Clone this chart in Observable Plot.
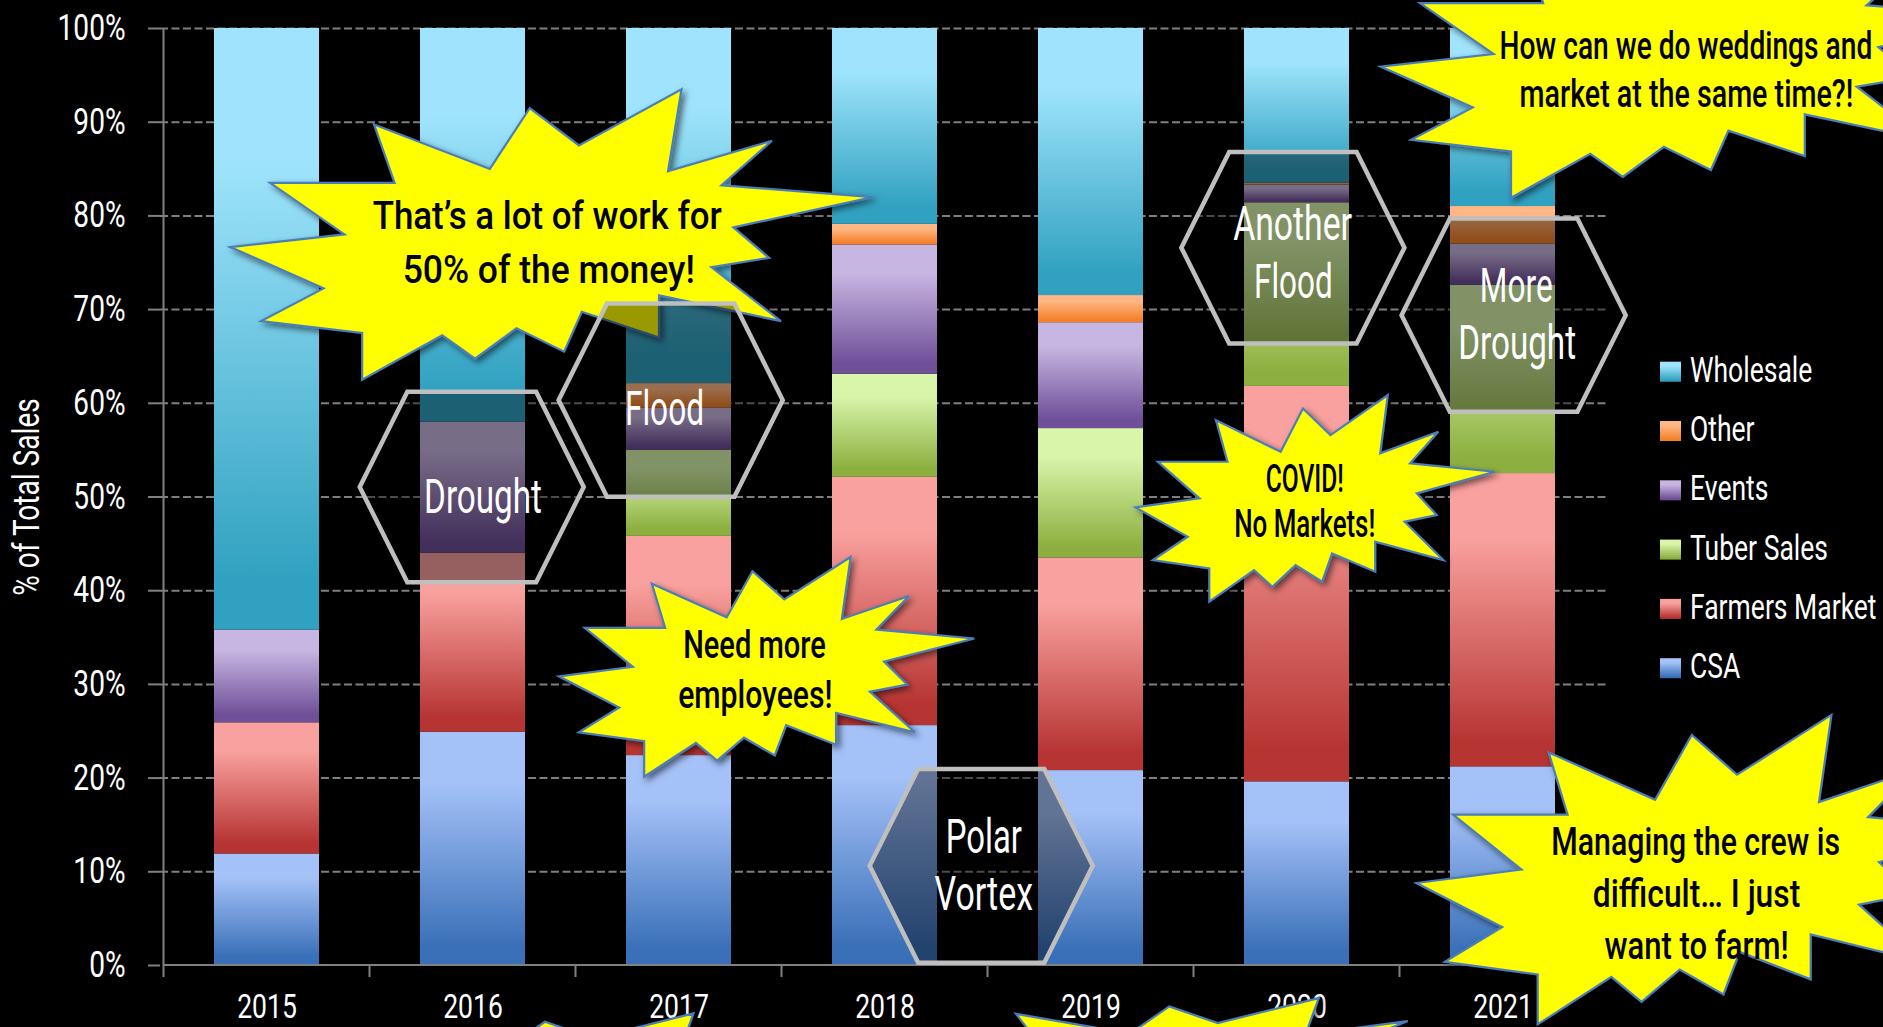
<!DOCTYPE html>
<html>
<head>
<meta charset="utf-8">
<script src="https://cdn.jsdelivr.net/npm/d3@7"></script>
<script src="https://cdn.jsdelivr.net/npm/@observablehq/plot@0.6"></script>
<style>
  html, body { margin: 0; padding: 0; background: #000; }
  #wrap { position: relative; width: 1883px; height: 1027px; overflow: hidden; background: #000; }
  #legend { position: absolute; left: 1650px; top: 340px; }
</style>
</head>
<body>
<div id="wrap"><div id="chart"></div><svg id="legend" width="233" height="360"></svg></div>
<script>
// ---------- data ----------
const years = ["2015", "2016", "2017", "2018", "2019", "2020", "2021"];
const seriesNames = ["CSA", "Farmers Market", "Tuber Sales", "Events", "Other", "Wholesale"];
const csa           = [11.9, 24.9, 22.4, 25.6, 20.8, 19.6, 21.2];
const farmersMarket = [14.0, 19.1, 23.4, 26.5, 22.7, 42.2, 31.3];
const tuberSales    = [ 0.0,  0.0,  9.2, 11.0, 13.8, 19.6, 20.1];
const events        = [ 9.9, 14.0,  4.5, 13.8, 11.3,  1.9,  4.4];
const other         = [ 0.0,  0.0,  2.6,  2.2,  2.9,  0.2,  4.0];
const wholesale     = [64.2, 42.0, 37.9, 20.9, 28.5, 16.5, 19.0];
const yTicks = [0, 10, 20, 30, 40, 50, 60, 70, 80, 90, 100];
const yTitle = "% of Total Sales";
const legendOrder = ["Wholesale", "Other", "Events", "Tuber Sales", "Farmers Market", "CSA"];

// ---------- styles ----------
const FONT = "Roboto, 'Liberation Sans', 'DejaVu Sans', sans-serif";
const gradientColors = {
  "CSA": ["#A4C1F8", "#3A70B8"],
  "Farmers Market": ["#F9A19E", "#B63432"],
  "Tuber Sales": ["#D8F5AA", "#8CAF40"],
  "Events": ["#C8B6E2", "#6F4F98"],
  "Other": ["#FFB885", "#F3802A"],
  "Wholesale": ["#9FE4FC", "#30A1C0"]
};
const gradId = s => "grad-" + seriesNames.indexOf(s);

// ---------- annotations (positions in data units: band index / percent) ----------
const STAR = [
  [-0.553,-0.758],[-0.193,-0.452],[-0.069,-0.871],[0.084,-0.614],
  [0.403,-1.0],[0.361,-0.437],[0.684,-0.646],[0.527,-0.340],
  [0.998,-0.259],[0.564,-0.050],[0.675,0.159],[0.496,0.224],
  [0.712,0.594],[0.333,0.417],[0.333,0.707],[0.093,0.530],
  [0.038,0.804],[-0.110,0.643],[-0.239,0.852],[-0.341,0.691],
  [-0.590,0.997],[-0.590,0.675],[-0.904,0.594],[-0.710,0.369],
  [-1.0,0.085],[-0.645,-0.002],[-0.876,-0.356],[-0.489,-0.356]
];
const annotations = [
  {kind: "star", x0: -0.176, x1: 2.947, yTop: 93.46, yBottom: 62.42, lines: [
    {text: "That’s a lot of work for", x: 1.363, y: 78.60, w: 1.695},
    {text: "50% of the money!", x: 1.370, y: 72.74, w: 1.418}]},
  {kind: "star", x0: 1.4195, x1: 3.438, yTop: 43.54, yBottom: 20.07, lines: [
    {text: "Need more", x: 2.369, y: 32.77, w: 0.693},
    {text: "employees!", x: 2.373, y: 27.39, w: 0.749}]},
  {kind: "star", x0: 4.219, x1: 5.964, yTop: 60.82, yBottom: 38.74, lines: [
    {text: "COVID!", x: 5.040, y: 50.51, w: 0.379},
    {text: "No Markets!", x: 5.040, y: 45.71, w: 0.685}]},
  {kind: "star", x0: 5.408, x1: 8.498, yTop: 112.55, yBottom: 81.83, lines: [
    {text: "How can we do weddings and", x: 6.890, y: 96.74, w: 1.810},
    {text: "market at the same time?!", x: 6.893, y: 91.57, w: 1.620}]},
  {kind: "star", x0: 5.582, x1: 8.454, yTop: 26.69, yBottom: -6.38, lines: [
    {text: "Managing the crew is", x: 6.938, y: 11.69, w: 1.402},
    {text: "difficult… I just", x: 6.942, y: 6.24, w: 1.007},
    {text: "want to farm!", x: 6.942, y: 0.68, w: 0.894}]},
  {kind: "star", x0: -0.071, x1: 2.985, yTop: -5.16, yBottom: -19.03, lines: []},
  {kind: "star", x0: 2.951, x1: 6.026, yTop: -3.53, yBottom: -17.40, lines: []},
  {kind: "hex", x0: 0.4525, x1: 1.540, yTop: 61.17, yBottom: 40.84, lines: [
    {text: "Drought", x: 1.051, y: 48.23, w: 0.572}]},
  {kind: "hex", x0: 1.418, x1: 2.506, yTop: 70.60, yBottom: 49.97, lines: [
    {text: "Flood", x: 1.932, y: 57.62, w: 0.384}]},
  {kind: "hex", x0: 2.928, x1: 4.011, yTop: 20.93, yBottom: 0.23, lines: [
    {text: "Polar", x: 3.482, y: 11.98, w: 0.370},
    {text: "Vortex", x: 3.482, y: 5.89, w: 0.478}]},
  {kind: "hex", x0: 4.441, x1: 5.524, yTop: 86.77, yBottom: 66.34, lines: [
    {text: "Another", x: 4.981, y: 77.35, w: 0.577},
    {text: "Flood", x: 4.985, y: 71.20, w: 0.382}]},
  {kind: "hex", x0: 5.510, x1: 6.598, yTop: 79.67, yBottom: 59.04, lines: [
    {text: "More", x: 6.067, y: 70.77, w: 0.354},
    {text: "Drought", x: 6.071, y: 64.63, w: 0.572}]}
];

// ---------- table ----------
const seriesArrays = [csa, farmersMarket, tuberSales, events, other, wholesale];
const table = [];
years.forEach((yr, i) => {
  seriesNames.forEach((s, k) => {
    const v = seriesArrays[k][i];
    if (v > 0) table.push({year: yr, series: s, value: v});
  });
});

// ---------- helpers ----------
function bandInfo(sx) {
  const step = sx(years[1]) - sx(years[0]);
  let bw;
  if (typeof sx.bandwidth === "function") bw = sx.bandwidth();
  else if (typeof sx.bandwidth === "number") bw = sx.bandwidth;
  else bw = step * 0.5077;
  return {step, bw};
}

function defsMark() {
  const g = d3.create("svg:g");
  const defs = g.append("defs");
  seriesNames.forEach(s => {
    const [light, dark] = gradientColors[s];
    const lg = defs.append("linearGradient").attr("id", gradId(s))
      .attr("x1", 0).attr("x2", 0).attr("y1", 0).attr("y2", 1);
    lg.append("stop").attr("offset", "0").attr("stop-color", light);
    lg.append("stop").attr("offset", "0.22").attr("stop-color", light);
    lg.append("stop").attr("offset", "0.92").attr("stop-color", dark);
    lg.append("stop").attr("offset", "1").attr("stop-color", dark);
  });
  const f = defs.append("filter").attr("id", "shadow")
    .attr("x", "-20%").attr("y", "-20%").attr("width", "140%").attr("height", "140%");
  f.append("feDropShadow").attr("dx", 3).attr("dy", 3).attr("stdDeviation", 3)
    .attr("flood-color", "#000").attr("flood-opacity", 0.55);
  return g.node();
}

function axisLinesMark(index, scales) {
  const sx = scales.x, sy = scales.y;
  const {step, bw} = bandInfo(sx);
  const left = sx(years[0]) - (step - bw) / 2;
  const yb = sy(0), yt = sy(100);
  const g = d3.create("svg:g").attr("stroke", "#808080").attr("stroke-width", 2).attr("fill", "none");
  g.append("line").attr("x1", left).attr("x2", left).attr("y1", yt).attr("y2", yb + 12);
  g.append("line").attr("x1", left).attr("x2", left + years.length * step).attr("y1", yb).attr("y2", yb);
  for (let k = 1; k <= years.length; k++) {
    g.append("line").attr("x1", left + k * step).attr("x2", left + k * step).attr("y1", yb).attr("y2", yb + 12);
  }
  return g.node();
}

function annotationsMark(index, scales) {
  const sx = scales.x, sy = scales.y;
  const {step, bw} = bandInfo(sx);
  const X = t => sx(years[0]) + bw / 2 + t * step;
  const Y = p => sy(p);
  const g = d3.create("svg:g");
  for (const a of annotations) {
    const x0 = X(a.x0), x1 = X(a.x1), y0 = Y(a.yTop), y1 = Y(a.yBottom);
    const cx = (x0 + x1) / 2, cy = (y0 + y1) / 2, hw = (x1 - x0) / 2, hh = (y1 - y0) / 2;
    const ag = g.append("g");
    if (a.kind === "star") {
      const pts = STAR.map(([u, v]) => [cx + u * hw, cy + v * hh]);
      ag.append("polygon").attr("points", pts.map(p => p.join(",")).join(" "))
        .attr("fill", "#FFFF00").attr("stroke", "#4A7EBB").attr("stroke-width", 2.2)
        .attr("stroke-linejoin", "miter").attr("filter", "url(#shadow)");
    } else {
      const inset = 0.25 * Math.min(x1 - x0, y1 - y0);
      const pts = [[x0, cy], [x0 + inset, y0], [x1 - inset, y0], [x1, cy], [x1 - inset, y1], [x0 + inset, y1]];
      ag.append("polygon").attr("points", pts.map(p => p.join(",")).join(" "))
        .attr("fill", "#000").attr("fill-opacity", 0.4)
        .attr("stroke", "#BFBFBF").attr("stroke-width", 4.5).attr("stroke-linejoin", "miter");
    }
    for (const l of a.lines) {
      ag.append("text").text(l.text)
        .attr("x", X(l.x)).attr("y", Y(l.y))
        .attr("text-anchor", "middle")
        .attr("textLength", l.w * step).attr("lengthAdjust", "spacingAndGlyphs")
        .attr("font-family", FONT)
        .attr("font-weight", a.kind === "star" ? 500 : 400)
        .attr("font-size", a.kind === "star" ? 39 : 48)
        .attr("fill", a.kind === "star" ? "#000" : "#fff");
    }
  }
  return g.node();
}

// condense a regular font so it reads like the narrow face of the original
function condense(root, factor) {
  d3.select(root).selectAll("text").each(function () {
    if (this.hasAttribute("textLength")) return;
    const n = this.getComputedTextLength();
    if (n > 0) {
      this.setAttribute("textLength", n * factor);
      this.setAttribute("lengthAdjust", "spacingAndGlyphs");
    }
  });
}

// ---------- plot ----------
const hasAxisMarks = typeof Plot.axisX === "function";
const marks = [
  () => defsMark(),
  Plot.ruleY(yTicks.filter(d => d > 0), {y: d => d, stroke: "#7F7F7F", strokeWidth: 2, strokeDasharray: "8,3.5"}),
  Plot.barY(table, Plot.stackY({x: "year", y: "value", fill: "series"})),
  axisLinesMark
];
if (hasAxisMarks) {
  marks.push(
    Plot.axisY({ticks: yTicks, tickSize: 12, tickPadding: 23, tickFormat: d => d + "%",
      fontSize: 36, stroke: "#808080", strokeWidth: 2, fill: "#fff", label: null}),
    Plot.axisX({tickSize: 0, tickPadding: 28, fontSize: 34, fill: "#fff", label: null})
  );
}
marks.push(
  Plot.text([yTitle], {text: d => d, frameAnchor: "left", textAnchor: "middle", lineAnchor: "middle",
    dx: -133, rotate: -90, fill: "#fff", fontSize: 36}),
  annotationsMark
);

const chart = Plot.plot({
  width: 1883,
  height: 1027,
  marginLeft: 160,
  marginRight: 275,
  marginTop: 28,
  marginBottom: 62,
  style: {background: "#000", color: "#fff", fontFamily: FONT, fontSize: "34px", overflow: "hidden"},
  x: hasAxisMarks
    ? {domain: years, paddingInner: 0.4923, paddingOuter: 0.246, axis: null}
    : {domain: years, paddingInner: 0.4923, paddingOuter: 0.246, tickSize: 0, tickPadding: 28, label: null},
  y: hasAxisMarks
    ? {domain: [0, 100], axis: null}
    : {domain: [0, 100], ticks: yTicks, tickSize: 12, tickPadding: 23, tickFormat: d => d + "%", label: null},
  color: {type: "ordinal", domain: seriesNames, range: seriesNames.map(s => `url(#${gradId(s)})`)},
  marks
});
document.getElementById("chart").appendChild(chart);
condense(chart, 0.78);

// ---------- legend ----------
const leg = d3.select("#legend");
legendOrder.forEach((s, i) => {
  const top = 21.7 + i * 59.3;
  leg.append("rect").attr("x", 10).attr("y", top).attr("width", 21).attr("height", 20)
    .attr("fill", `url(#${gradId(s)})`);
  leg.append("text").attr("x", 40).attr("y", top + 20).text(s)
    .attr("fill", "#fff").attr("font-family", FONT).attr("font-size", 35);
});
condense(leg.node(), 0.757);
</script>
</body>
</html>
